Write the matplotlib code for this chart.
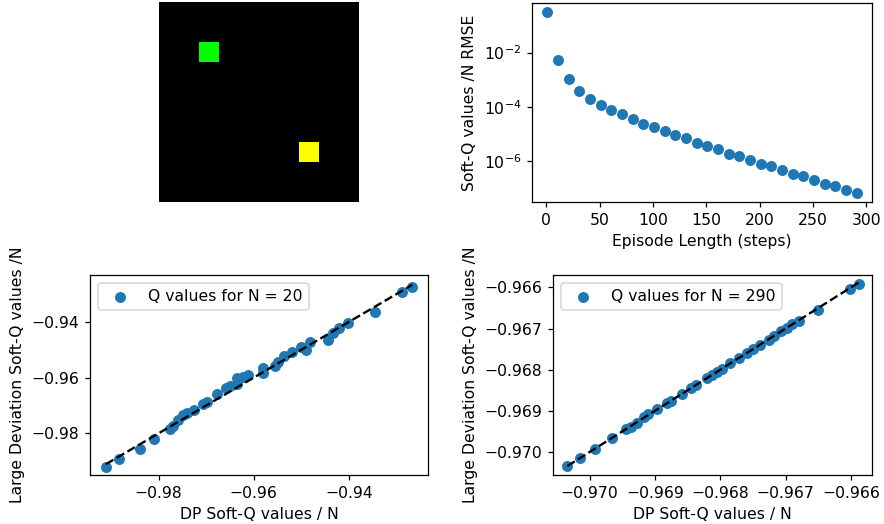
import numpy as np
import matplotlib
matplotlib.use("Agg")
import matplotlib.pyplot as plt

# grid world: 10x10, agent (green) and goal (yellow)
grid_size = 10
green_cell = (2, 2)
yellow_cell = (7, 7)

# RMSE vs episode length
episode_len = list(range(1, 300, 10))
rmse = [0.314, 5.5e-3, 1.07e-3, 3.88e-4, 1.97e-4, 1.12e-4, 7.3e-5, 5.4e-5, 3.5e-5, 2.4e-5,
        1.84e-5, 1.24e-5, 9.1e-6, 7.0e-6, 4.5e-6, 3.56e-6, 2.77e-6, 1.86e-6, 1.49e-6, 1.12e-6,
        7.8e-7, 6.5e-7, 4.7e-7, 3.4e-7, 2.8e-7, 2.0e-7, 1.47e-7, 1.24e-7, 8.6e-8, 6.6e-8]

# N = 20
dp_q20 = [-0.99107, -0.98834, -0.98392, -0.98098, -0.97762, -0.97692, -0.97587, -0.97496,
          -0.97412, -0.97250, -0.97075, -0.96991, -0.96781, -0.96585, -0.96501, -0.96347,
          -0.96347, -0.96235, -0.96116, -0.95814, -0.95800, -0.95555, -0.95485, -0.95359,
          -0.95184, -0.94995, -0.94890, -0.94820, -0.94434, -0.94329, -0.94203, -0.94014,
          -0.93453, -0.92872, -0.92662]
ld_q20 = [-0.99198, -0.98910, -0.98563, -0.98204, -0.97856, -0.97737, -0.97521, -0.97353,
          -0.97281, -0.97162, -0.96946, -0.96862, -0.96599, -0.96383, -0.96299, -0.96228,
          -0.96024, -0.95964, -0.95904, -0.95665, -0.95820, -0.95581, -0.95425, -0.95222,
          -0.95066, -0.94910, -0.95006, -0.94707, -0.94647, -0.94407, -0.94228, -0.94024,
          -0.93629, -0.92910, -0.92731]

# N = 290
dp_q290 = [-0.970341, -0.970153, -0.969918, -0.969664, -0.969450, -0.969373, -0.969282,
           -0.969169, -0.969108, -0.968966, -0.968823, -0.968762, -0.968594, -0.968456,
           -0.968380, -0.968201, -0.968125, -0.968048, -0.967972, -0.967855, -0.967717,
           -0.967590, -0.967498, -0.967386, -0.967259, -0.967172, -0.967070, -0.966978,
           -0.966902, -0.966800, -0.966510, -0.966020, -0.965883]
ld_q290 = [-0.970340, -0.970138, -0.969935, -0.969668, -0.969449, -0.969385, -0.969287,
           -0.969142, -0.969077, -0.968964, -0.968818, -0.968753, -0.968599, -0.968453,
           -0.968372, -0.968211, -0.968138, -0.968065, -0.967992, -0.967846, -0.967725,
           -0.967587, -0.967506, -0.967401, -0.967279, -0.967182, -0.967070, -0.966978,
           -0.966899, -0.966818, -0.966551, -0.966032, -0.965927]

DPI = 112.5
fig = plt.figure(figsize=(884/DPI, 524/DPI), dpi=DPI)

# top left: the environment
ax1 = fig.add_axes([158/884, 1-202/524, 201/884, 200/524])
img = np.zeros((grid_size, grid_size, 3))
img[green_cell] = [0, 1, 0]
img[yellow_cell] = [1, 1, 0]
ax1.imshow(img, interpolation='nearest')
ax1.axis('off')

# top right: RMSE
ax2 = fig.add_axes([532/884, 1-202/524, 340/884, 199/524])
ax2.scatter(episode_len, rmse)
ax2.set_yscale('log')
ax2.set_yticks([1e-2, 1e-4, 1e-6])
ax2.minorticks_off()
ax2.set_xticks([0, 50, 100, 150, 200, 250, 300])
ax2.set_xlabel('Episode Length (steps)')
ax2.set_ylabel('Soft-Q values /N RMSE')

# bottom left: N = 20
ax3 = fig.add_axes([90/884, 1-475/524, 338/884, 200/524])
ax3.scatter(dp_q20, ld_q20, label='Q values for N = 20')
lo, hi = min(dp_q20), max(dp_q20)
ax3.plot([lo, hi], [lo, hi], 'k--')
ax3.set_xlim(-0.99443, -0.92333)
ax3.set_ylim(-0.99497, -0.92311)
ax3.set_xticks([-0.98, -0.96, -0.94])
ax3.set_yticks([-0.98, -0.96, -0.94])
ax3.set_xlabel('DP Soft-Q values / N')
ax3.set_ylabel('Large Deviation Soft-Q values /N')
ax3.legend(loc='upper left')

# bottom right: N = 290
ax4 = fig.add_axes([553/884, 1-475/524, 319/884, 200/524])
ax4.scatter(dp_q290, ld_q290, label='Q values for N = 290')
lo, hi = min(dp_q290), max(dp_q290)
ax4.plot([lo, hi], [lo, hi], 'k--')
ax4.set_xlim(-0.970561, -0.965679)
ax4.set_ylim(-0.970559, -0.965700)
ax4.set_xticks([-0.970, -0.969, -0.968, -0.967, -0.966])
ax4.set_yticks([-0.970, -0.969, -0.968, -0.967, -0.966])
ax4.ticklabel_format(useOffset=False)
ax4.set_xlabel('DP Soft-Q values / N')
ax4.set_ylabel('Large Deviation Soft-Q values /N')
ax4.legend(loc='upper left')

fig.savefig('out.png', dpi=DPI)
